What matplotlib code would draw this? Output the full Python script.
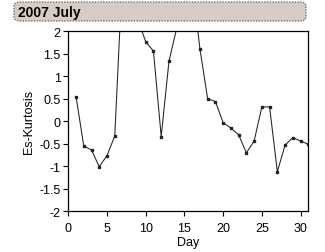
import matplotlib
matplotlib.use("Agg")
import matplotlib.pyplot as plt
from matplotlib.patches import FancyBboxPatch

plt.rcParams['font.family'] = ['Liberation Sans', 'DejaVu Sans']

days = list(range(1, 32))
kurtosis = [0.55, -0.55, -0.64, -1.01, -0.76, -0.33, 3.3, 3.2, 2.25, 1.77,
            1.56, -0.34, 1.33, 2.07, 3.2, 3.1, 1.61, 0.50, 0.44, -0.03,
            -0.15, -0.30, -0.70, -0.44, 0.32, 0.32, -1.12, -0.53, -0.36, -0.44,
            -0.51]
title = "2007 July"

fig = plt.figure(figsize=(3.25, 2.53), dpi=100)
fig.patch.set_facecolor('white')

# title bar
box = FancyBboxPatch((14/325, 1 - 22/253), 292/325, 19/253,
                     boxstyle="round,pad=0,rounding_size=0.018",
                     transform=fig.transFigure, facecolor='#d5ccc6',
                     edgecolor='#707070', linewidth=1.0, linestyle=(0, (1, 1)))
fig.patches.append(box)
fig.text(18/325, 1 - 12.5/253, title, fontsize=10, fontweight='bold',
         va='center', ha='left', color='black')

ax = fig.add_axes([68.3/325, 1 - 212.3/253, 240/325, 180/253])
ax.plot(days, kurtosis, color='#222222', linewidth=0.75, marker='s',
        markersize=1.5)
ax.set_xlim(0, 31)
ax.set_ylim(-2, 2)
ax.set_xticks([0, 5, 10, 15, 20, 25, 30])
ax.set_yticks([-2, -1.5, -1, -0.5, 0, 0.5, 1, 1.5, 2])
ax.set_yticklabels(['-2', '-1.5', '-1', '-0.5', '0', '0.5', '1', '1.5', '2'])
ax.tick_params(direction='out', length=3.5, width=0.8, labelsize=9, pad=2)
ax.tick_params(axis='x', pad=4)
for s in ax.spines.values():
    s.set_linewidth(0.9)
ax.set_xlabel("Day", fontsize=9, labelpad=2)
ax.set_ylabel("Es-Kurtosis", fontsize=9, labelpad=3)

fig.savefig("out.png", dpi=100)
